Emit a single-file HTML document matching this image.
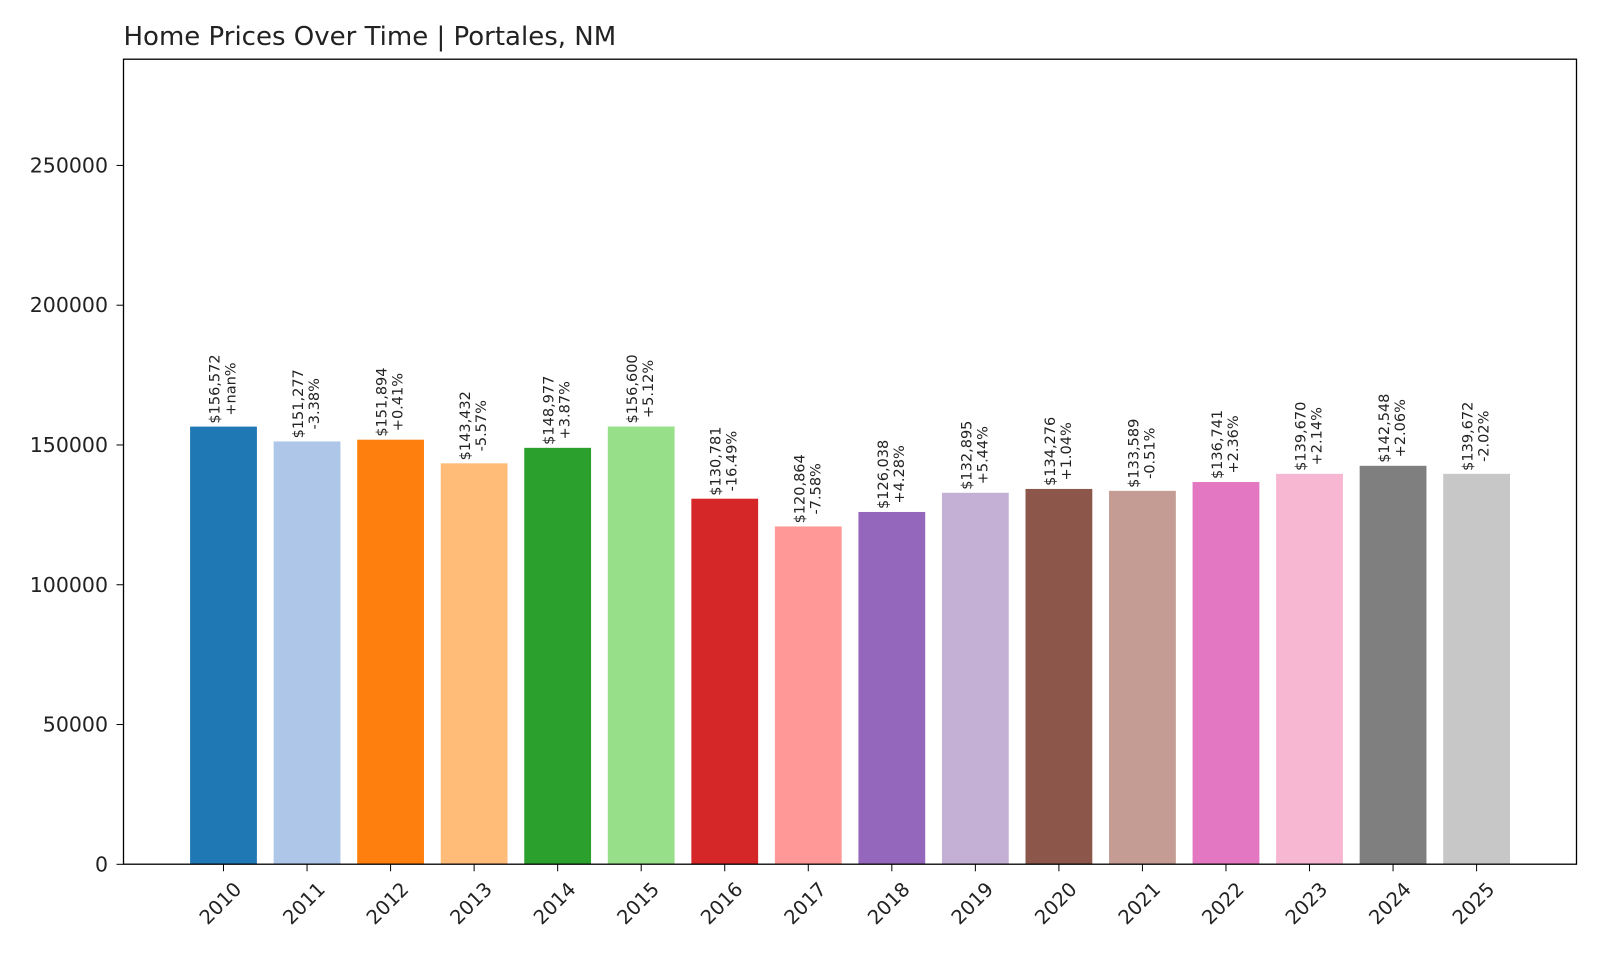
<!DOCTYPE html>
<html><head><meta charset="utf-8"><style>
body{margin:0;background:#fff;font-family:"Liberation Sans","DejaVu Sans",sans-serif}
</style></head><body>
<svg id="chart" width="1600" height="960" xmlns="http://www.w3.org/2000/svg" font-family="DejaVu Sans, Liberation Sans, sans-serif">
<rect width="1600" height="960" fill="#fff"/>
<text x="123.5" y="45" font-size="26" fill="#222">Home Prices Over Time | Portales, NM</text>
<g id="bars"></g><g id="axes"></g>
<rect x="123.5" y="59.2" width="1453" height="805" fill="none" stroke="#000" stroke-width="1.3"/>
</svg>
<script>
const years=["2010","2011","2012","2013","2014","2015","2016","2017","2018","2019","2020","2021","2022","2023","2024","2025"];
const values=[156572,151277,151894,143432,148977,156600,130781,120864,126038,132895,134276,133589,136741,139670,142548,139672];
const changes=["+nan%","-3.38%","+0.41%","-5.57%","+3.87%","+5.12%","-16.49%","-7.58%","+4.28%","+5.44%","+1.04%","-0.51%","+2.36%","+2.14%","+2.06%","-2.02%"];
const yTicks=[0,50000,100000,150000,200000,250000];
const colors=["#1f77b4","#aec7e8","#ff7f0e","#ffbb78","#2ca02c","#98df8a","#d62728","#ff9896","#9467bd","#c5b0d5","#8c564b","#c49c94","#e377c2","#f7b6d2","#7f7f7f","#c7c7c7"];
const NS="http://www.w3.org/2000/svg";
const y0=864.3,yTop=59.2,yMax=288000;
const ys=v=>y0-v/yMax*(y0-yTop);
const step=83.54,xs=i=>223.5+i*step,bw=66.8;
const bars=document.getElementById('bars'),axes=document.getElementById('axes');
function mk(t,a,p){const e=document.createElementNS(NS,t);for(const k in a)e.setAttribute(k,a[k]);p.appendChild(e);return e;}
values.forEach((v,i)=>{
 const cx=xs(i),top=ys(v);
 const r=mk('rect',{x:cx-bw/2,y:top,width:bw,height:y0-top,fill:colors[i]},bars);
 
 
 const l1=mk('text',{'font-size':14.5,fill:'#222','text-anchor':'middle','dominant-baseline':'central'},bars);
 l1.textContent='$'+v.toLocaleString('en-US');
 
 
 const l2=mk('text',{'font-size':14.5,fill:'#222','text-anchor':'middle','dominant-baseline':'central'},bars);
 l2.textContent=changes[i];
 
 
 const w=Math.max(l1.getComputedTextLength(),l2.getComputedTextLength());
 const cy=top-3-w/2;
 l1.setAttribute('transform',`translate(${cx-8},${cy}) rotate(-90)`);
 l2.setAttribute('transform',`translate(${cx+8},${cy}) rotate(-90)`);
 const tk=mk('line',{x1:cx,x2:cx,y1:y0,y2:y0+7,stroke:'#000'},axes);
 
 
 const tl=mk('text',{'font-size':19.5,fill:'#222','text-anchor':'end',transform:`translate(${cx+9},${y0+16}) rotate(-45)`,'dominant-baseline':'hanging'},axes);
 tl.textContent=years[i];
 
 
});
yTicks.forEach(t=>{
 const y=ys(t);
 const tk=mk('line',{x1:116.5,x2:123.5,y1:y,y2:y,stroke:'#000'},axes);
 
 
 const tl=mk('text',{x:108,y:y,'font-size':20.5,fill:'#222','text-anchor':'end','dominant-baseline':'central'},axes);
 tl.textContent=t;
 
 
});
</script>
</body></html>
